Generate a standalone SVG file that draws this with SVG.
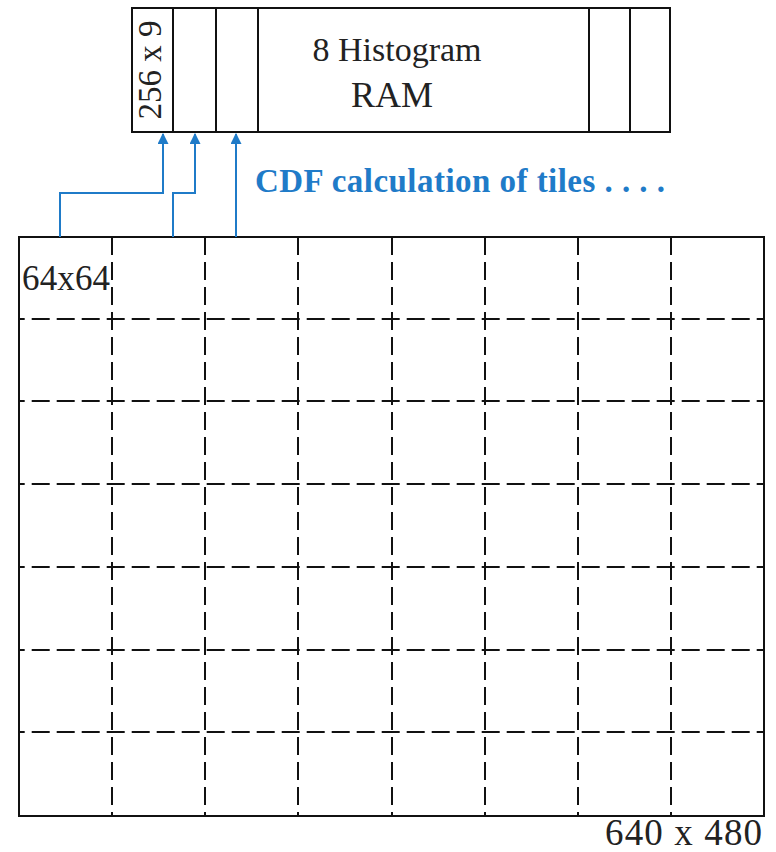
<svg xmlns="http://www.w3.org/2000/svg" width="776" height="852" viewBox="0 0 776 852">
<defs>
<style>
.t{font-family:"Liberation Serif","Times New Roman",Tinos,"DejaVu Serif",serif;fill:#222}
.b{font-family:"Liberation Serif","Times New Roman",Tinos,"DejaVu Serif",serif;font-weight:bold;fill:#1f7bc8}
.box{fill:none;stroke:#111;stroke-width:2}
.dash{fill:none;stroke:#111;stroke-width:2;stroke-dasharray:18 7}
.conn{fill:none;stroke:#1f7bc8;stroke-width:2}
</style>
<marker id="ah" viewBox="0 0 10 10" refX="9" refY="5" markerWidth="11" markerHeight="11" markerUnits="userSpaceOnUse" orient="auto">
<path d="M0,0 L10,5 L0,10 z" fill="#1f7bc8"/>
</marker>
</defs>
<rect width="776" height="852" fill="#fff"/>
<g id="ram">
<rect class="box" x="132" y="8" width="538" height="124"/>
<line class="box" x1="173" y1="8" x2="173" y2="132"/>
<line class="box" x1="216" y1="8" x2="216" y2="132"/>
<line class="box" x1="258" y1="8" x2="258" y2="132"/>
<line class="box" x1="589" y1="8" x2="589" y2="132"/>
<line class="box" x1="630" y1="8" x2="630" y2="132"/>
<text class="t" x="161" y="70" font-size="33" text-anchor="middle" transform="rotate(-90 161 70)">256 x 9</text>
<text class="t" x="397" y="61" font-size="34" text-anchor="middle">8 Histogram</text>
<text class="t" x="392" y="107" font-size="36" text-anchor="middle">RAM</text>
</g>
<g id="image">
<rect class="box" x="19" y="237" width="745" height="579"/>
<path class="dash" d="M112,237V816M205,237V816M298,237V816M392,237V816M485,237V816M578,237V816M671,237V816"/>
<path class="dash" style="stroke-dashoffset:12.3" d="M19,319H764M19,401H764M19,484H764M19,567H764M19,650H764M19,732H764"/>
<text class="t" x="22" y="290" font-size="35" textLength="88">64x64</text>
<text class="t" x="605" y="845" font-size="37" textLength="157">640 x 480</text>
</g>
<g id="connectors">
<path class="conn" d="M60,237V193H163V134" marker-end="url(#ah)"/>
<path class="conn" d="M173,237V193H195V134" marker-end="url(#ah)"/>
<path class="conn" d="M236,237V134" marker-end="url(#ah)"/>
</g>
<g id="label">
<text class="b" x="255" y="192" font-size="33" textLength="410">CDF calculation of tiles . . . .</text>
</g>
</svg>
